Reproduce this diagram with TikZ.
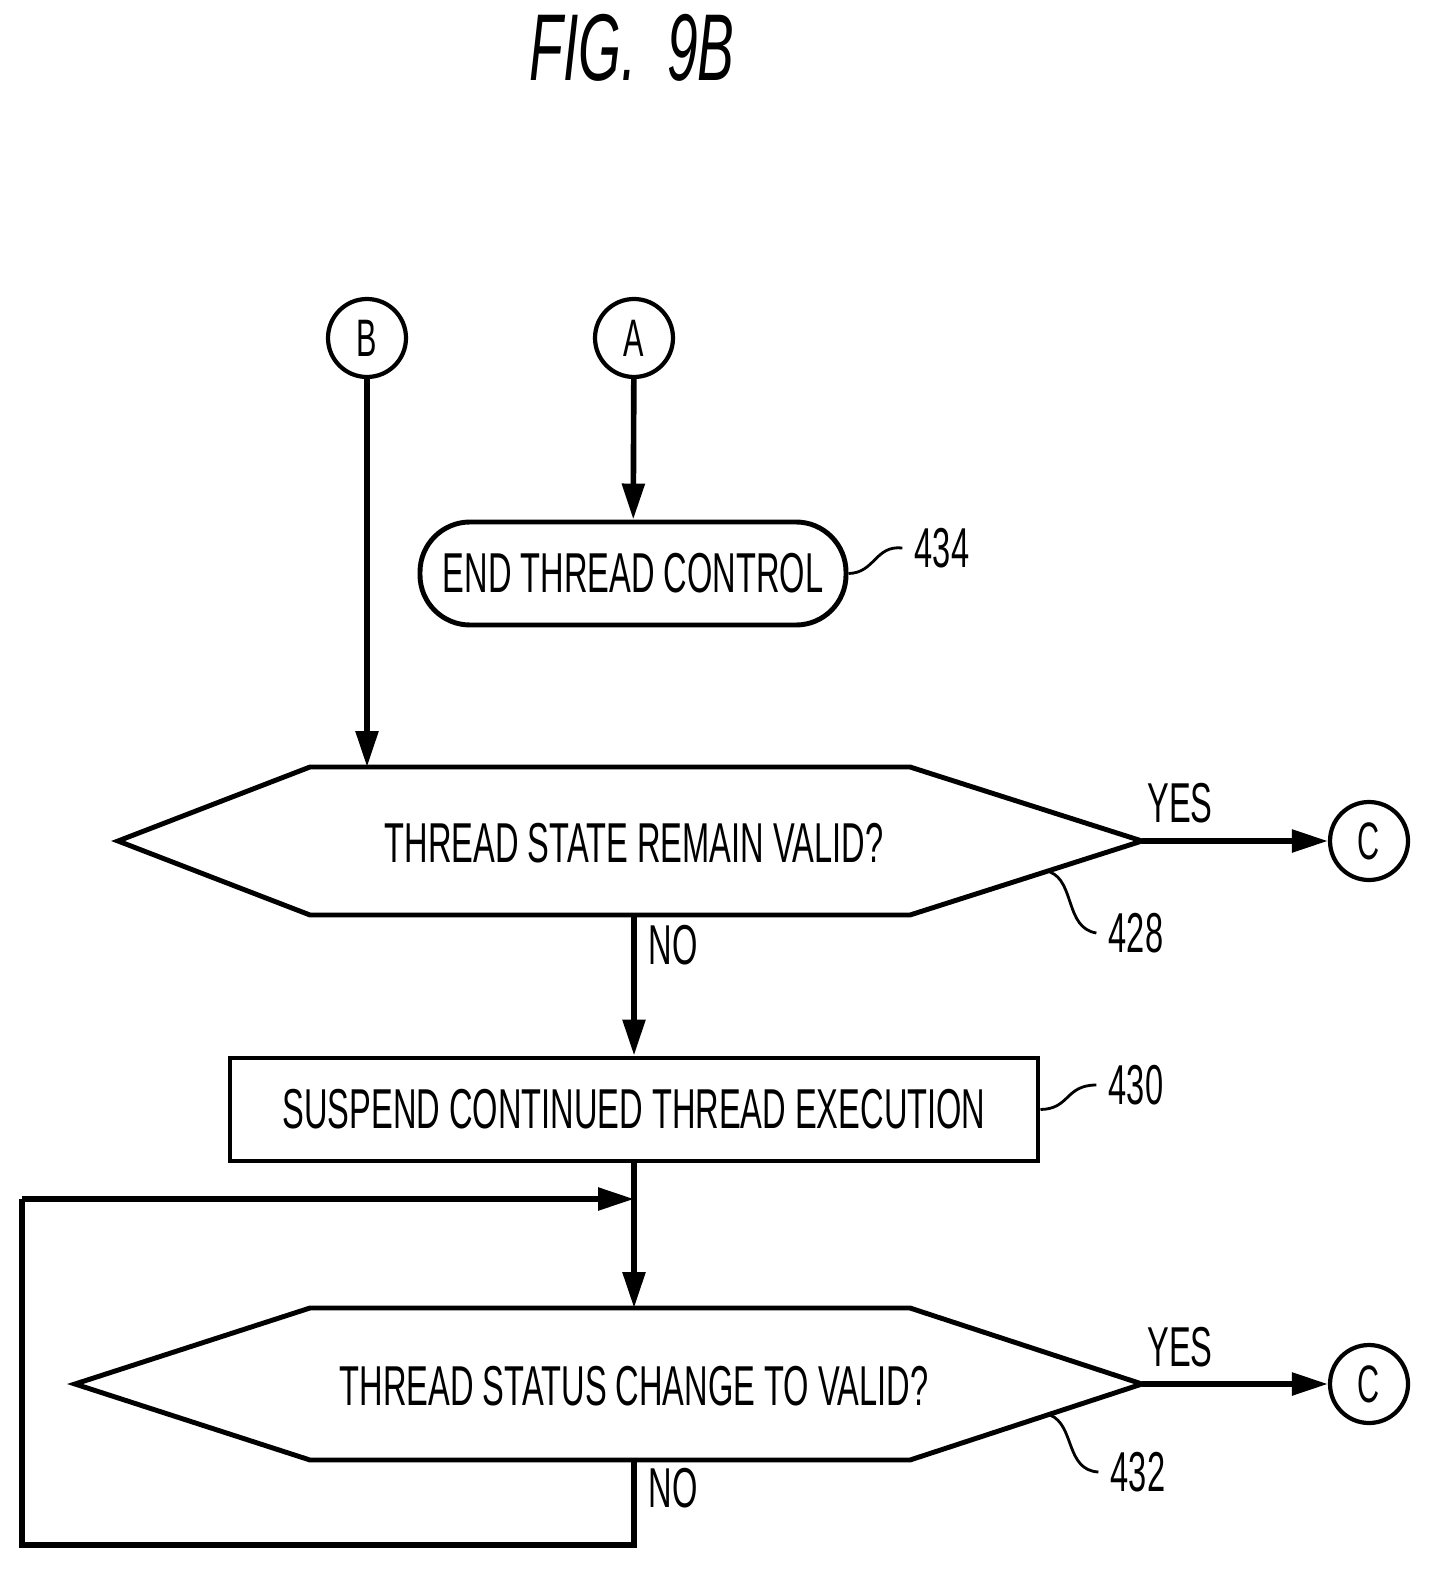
\documentclass[tikz,border=0pt]{standalone}
\usepackage{fontspec}
\setmainfont[FakeStretch=0.58]{Liberation Sans}
\usetikzlibrary{arrows.meta,positioning}

\tikzstyle{conn} = [draw, circle, line width=1.2pt, minimum size=0.78cm, inner sep=0pt, font=\fontsize{15}{15}\selectfont]
\tikzstyle{term} = [draw, rounded corners=0.5cm, line width=1.4pt, minimum width=4.26cm, minimum height=1.03cm, font=\fontsize{16}{16}\selectfont]
\tikzstyle{proc} = [draw, line width=1.4pt, minimum width=8.08cm, minimum height=1.03cm, font=\fontsize{16}{16}\selectfont]
\tikzstyle{label} = [font=\fontsize{16}{16}\selectfont]
\tikzstyle{arrow} = [line width=1.6pt,-{Triangle[length=0.36cm,width=0.22cm]}]
\tikzstyle{line} = [line width=1.6pt]
\tikzstyle{lead} = [line width=0.8pt]

\begin{document}
\begin{tikzpicture}
\useasboundingbox (0,0) rectangle (14.33,-15.71);

% Title
\node (title) at (6.32,-0.48) {\fontsize{27}{27}\selectfont\itshape FIG.\ \ 9B};

% Connectors and terminal
\node (conB) [conn] at (3.67,-3.38) {B};
\node (conA) [conn] at (6.34,-3.38) {A};
\node (endctl) [term] at (6.33,-5.735) {END THREAD CONTROL};
\node (r434) [label] at (9.42,-5.48) {434};

% Decision 428
\node (dec1) [label] at (6.34,-8.43) {THREAD STATE REMAIN VALID?};
\coordinate (dec1top) at (3.67,-7.67);
\coordinate (dec1bot) at (6.34,-9.15);
\coordinate (dec1r) at (11.42,-8.41);
\draw[line width=1.4pt] (1.18,-8.41) -- (3.10,-7.67) -- (9.10,-7.67) -- (dec1r) -- (9.10,-9.15) -- (3.10,-9.15) -- cycle;
\node (conC1) [conn] at (13.69,-8.41) {C};
\node (yes1) [label] at (11.80,-8.03) {YES};
\node (no1) [label] at (6.73,-9.45) {NO};
\node (r428) [label] at (11.36,-9.33) {428};

% Process 430
\node (suspend) [proc] at (6.34,-11.095) {SUSPEND CONTINUED THREAD EXECUTION};
\node (r430) [label] at (11.36,-10.85) {430};

% Decision 432
\node (dec2) [label] at (6.34,-13.86) {THREAD STATUS CHANGE TO VALID?};
\coordinate (dec2top) at (6.34,-13.08);
\coordinate (dec2bot) at (6.34,-14.60);
\coordinate (dec2r) at (11.42,-13.84);
\draw[line width=1.4pt] (0.75,-13.84) -- (3.10,-13.08) -- (9.10,-13.08) -- (dec2r) -- (9.10,-14.60) -- (3.10,-14.60) -- cycle;
\node (conC2) [conn] at (13.69,-13.84) {C};
\node (yes2) [label] at (11.80,-13.47) {YES};
\node (no2) [label] at (6.73,-14.88) {NO};
\node (r432) [label] at (11.38,-14.72) {432};
\coordinate (loopin) at (6.34,-11.99);

% Arrows
\draw [arrow] (conA) -- (endctl);
\draw [arrow] (conB) -- (dec1top);
\draw [arrow] (dec1r) -- (conC1);
\draw [arrow] (dec1bot) -- (suspend);
\draw [arrow] (suspend) -- (dec2top);
\draw [arrow] (dec2r) -- (conC2);
\draw [line] (dec2bot) -- (6.34,-15.45) -- (0.22,-15.45) -- (0.22,-11.99);
\draw [arrow] (0.22,-11.99) -- (loopin);

% Reference leads
\draw [lead] (endctl.east) .. controls (8.75,-5.73) and (8.75,-5.45) .. (r434.west);
\draw [lead] (10.50,-8.72) .. controls (10.75,-8.82) and (10.65,-9.28) .. (r428.west);
\draw [lead] (suspend.east) .. controls (10.70,-11.09) and (10.65,-10.85) .. (r430.west);
\draw [lead] (10.50,-14.15) .. controls (10.75,-14.25) and (10.65,-14.70) .. (r432.west);
\end{tikzpicture}
\end{document}
